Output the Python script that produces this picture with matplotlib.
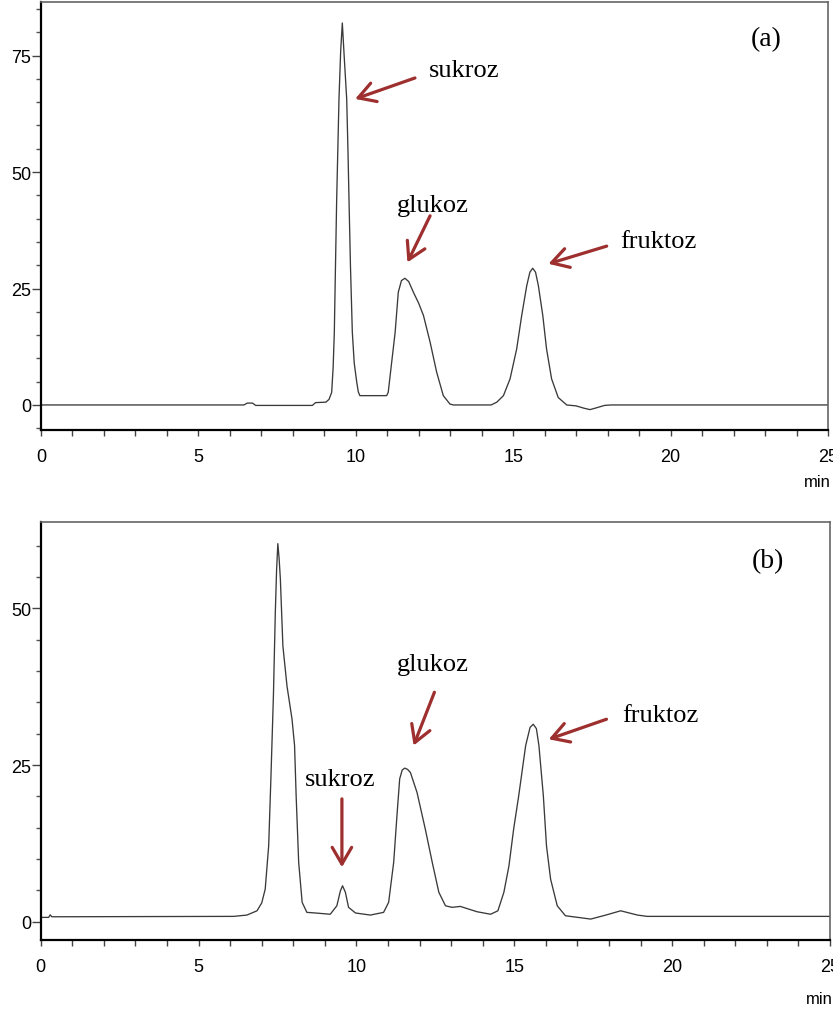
"""
HPLC chromatograms of sugar standards (a) and sample (b)
Output: out.png
"""

import matplotlib
matplotlib.use("Agg")
import matplotlib.pyplot as plt
from matplotlib.ticker import MultipleLocator

# ── Data ─────────────────────────────────────────────────────────────────────
a_time = [0.0, 6.45, 6.55, 6.72, 6.82, 8.62, 8.72, 9.05, 9.15, 9.234,
          9.28, 9.318, 9.35, 9.393, 9.43, 9.466, 9.52, 9.572, 9.63, 9.711,
          9.75, 9.784, 9.83, 9.89, 9.95, 10.03, 10.08, 10.13, 10.98, 11.03,
          11.12, 11.25, 11.35, 11.45, 11.56, 11.68, 11.83, 12.0, 12.15, 12.36,
          12.57, 12.78, 12.99, 13.1, 14.3, 14.48, 14.69, 14.9, 15.11, 15.27,
          15.43, 15.53, 15.62, 15.71, 15.8, 15.94, 16.06, 16.22, 16.43, 16.7,
          17.0, 17.25, 17.44, 17.65, 17.9, 18.1, 25.0]
a_signal = [0.0, 0.0, 0.4, 0.4, -0.1, -0.1, 0.5, 0.6, 1.2, 2.7,
            8.0, 15.6, 28.0, 44.2, 55.0, 65.7, 76.0, 82.0, 75.0, 65.7,
            55.0, 44.2, 30.0, 15.6, 9.0, 4.9, 2.8, 2.0, 2.0, 2.7,
            8.0, 15.6, 24.2, 26.7, 27.2, 26.5, 24.2, 21.8, 19.2, 13.5,
            7.0, 2.0, 0.2, 0.0, 0.0, 0.6, 2.0, 5.6, 12.0, 19.2,
            25.6, 28.5, 29.35, 28.5, 25.6, 19.2, 12.0, 5.6, 1.6, 0.0,
            -0.2, -0.7, -1.0, -0.6, -0.1, 0.0, 0.0]

b_time = [0.0, 0.25, 0.3, 0.35, 0.6, 6.11, 6.53, 6.85, 7.0, 7.11,
          7.22, 7.29, 7.37, 7.43, 7.47, 7.51, 7.55, 7.59, 7.67, 7.8,
          7.96, 8.04, 8.09, 8.17, 8.28, 8.43, 8.7, 9.17, 9.38, 9.49,
          9.56, 9.65, 9.75, 9.97, 10.44, 10.86, 11.02, 11.18, 11.29, 11.37,
          11.45, 11.53, 11.62, 11.71, 11.92, 12.18, 12.4, 12.61, 12.82, 13.03,
          13.29, 13.82, 14.25, 14.48, 14.67, 14.83, 14.98, 15.14, 15.36, 15.5,
          15.6, 15.7, 15.78, 15.92, 16.02, 16.15, 16.36, 16.62, 17.42, 17.9,
          18.37, 18.9, 19.21, 25.0]
b_signal = [0.7, 0.7, 1.1, 0.8, 0.8, 0.86, 1.07, 1.75, 3.0, 5.2,
            12.1, 22.8, 36.0, 49.3, 56.0, 60.3, 58.0, 54.7, 44.0, 37.6,
            32.3, 28.1, 20.1, 9.5, 3.1, 1.5, 1.4, 1.2, 2.55, 4.9,
            5.74, 4.7, 2.3, 1.4, 1.07, 1.5, 3.1, 9.5, 17.4, 22.8,
            24.2, 24.5, 24.3, 23.8, 20.6, 14.8, 9.5, 4.7, 2.55, 2.3,
            2.45, 1.6, 1.2, 1.75, 4.7, 8.9, 14.8, 20.1, 28.1, 31.0,
            31.5, 30.8, 28.1, 20.1, 12.1, 6.8, 2.55, 0.96, 0.43, 1.07,
            1.75, 1.07, 0.86, 0.86]

peak_names = ["sukroz", "glukoz", "fruktoz"]
panel_tags = ["(a)", "(b)"]

# ── Layout: label text position, arrow tail, arrow head (data coords) ────────
A_LABELS = {
    "sukroz":  ((13.44, 72.0), (11.88, 70.2), (9.98, 65.7)),
    "glukoz":  ((12.45, 43.0), (12.36, 40.6), (11.64, 30.6)),
    "fruktoz": ((19.61, 35.1), (17.97, 34.1), (16.12, 30.3)),
}
B_LABELS = {
    "sukroz":  ((9.49, 22.8), (9.54, 19.6), (9.54, 8.7)),
    "glukoz":  ((12.41, 41.1), (12.47, 36.6), (11.81, 28.1)),
    "fruktoz": ((19.64, 32.9), (17.92, 32.3), (16.09, 29.1)),
}
TAG_POS = [(23.05, 78.6), (23.02, 57.6)]

ARROW_COLOR = "#9e2f2f"
LINE_COLOR  = "#3a3a3a"
SERIF = ["Liberation Serif", "DejaVu Serif"]

plt.rcParams["font.family"] = ["Liberation Sans", "DejaVu Sans"]

fig = plt.figure(figsize=(8.33, 10.12), dpi=100)
ax_a = fig.add_axes([0.0492, 0.574, 0.9448, 0.423])
ax_b = fig.add_axes([0.0489, 0.0702, 0.9475, 0.4133])

panels = [
    (ax_a, a_time, a_signal, A_LABELS, (-5.4, 86.5), [0, 25, 50, 75], -0.119),
    (ax_b, b_time, b_signal, B_LABELS, (-2.9, 63.8), [0, 25, 50], -0.141),
]

for i, (ax, t, s, labels, ylim, yticks, min_y) in enumerate(panels):
    ax.plot(t, s, color=LINE_COLOR, lw=0.95, solid_joinstyle="round")
    ax.set_xlim(0, 25)
    ax.set_ylim(*ylim)

    # ticks
    ax.xaxis.set_major_locator(MultipleLocator(5))
    ax.xaxis.set_minor_locator(MultipleLocator(1))
    ax.set_yticks(yticks)
    ax.yaxis.set_minor_locator(MultipleLocator(5))
    ax.tick_params(axis="y", which="major", length=6.5, width=1.0,
                   color="#444444", pad=0.5, labelsize=13)
    ax.tick_params(axis="y", which="minor", length=3.5, width=1.0, color="#555555")
    ax.tick_params(axis="x", which="both", length=4.3, width=1.0,
                   color="#444444", pad=8.5, labelsize=13)

    # frame
    for side in ("left", "bottom"):
        ax.spines[side].set_color("black")
        ax.spines[side].set_linewidth(1.6)
    for side in ("top", "right"):
        ax.spines[side].set_color("#666666")
        ax.spines[side].set_linewidth(1.2)

    ax.text(0.986, min_y, "min", transform=ax.transAxes, ha="center",
            va="center", fontsize=12)

    # peak labels with arrows
    for name in peak_names:
        txt, tail, head = labels[name]
        ax.text(*txt, name, ha="center", va="center", fontsize=19, family=SERIF)
        ax.annotate("", xy=head, xytext=tail,
                    arrowprops=dict(arrowstyle="->,head_length=0.6,head_width=0.35",
                                    color=ARROW_COLOR, lw=2.3, mutation_scale=20,
                                    shrinkA=0, shrinkB=0))

    ax.text(*TAG_POS[i], panel_tags[i], ha="center", va="center",
            fontsize=20, family=SERIF)

plt.savefig("out.png", dpi=100)
plt.close()
